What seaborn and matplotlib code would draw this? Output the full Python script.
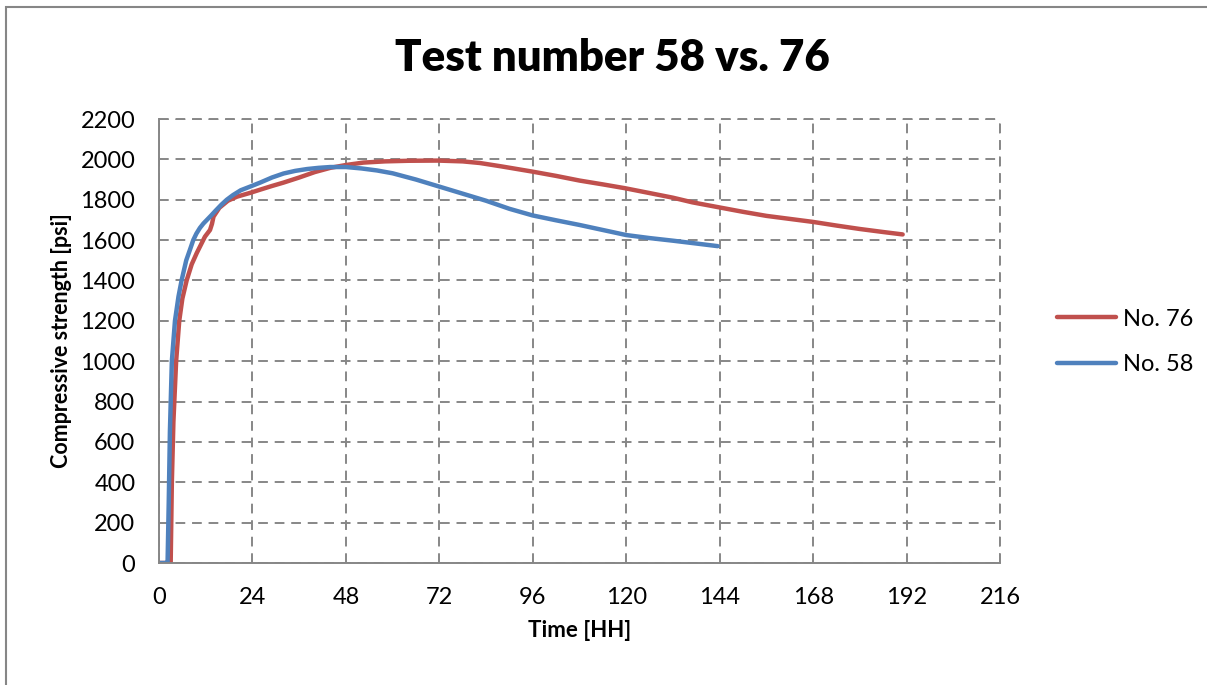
import matplotlib
matplotlib.use("Agg")
import matplotlib.pyplot as plt
import seaborn as sns
import pandas as pd
from matplotlib.patches import Rectangle

# Test No. 76 (hours, psi)
t76 = [0, 2.9, 3.0, 3.3, 3.7, 4.4, 5.2, 6.0, 7.1, 8.4, 9.7, 11.8, 13.1, 13.6,
       14.0, 15.5, 17.7, 20, 23.4, 26, 29, 32, 36, 40, 44, 48, 52.5, 58, 64,
       71.6, 78, 82.4, 88, 95.7, 102, 108, 114, 119.7, 126, 132, 137, 142.8,
       150, 156, 162, 168, 174, 180, 186, 191]
s76 = [0, 0, 0, 400, 700, 1000, 1200, 1310, 1400, 1480, 1536, 1617, 1650, 1680,
       1716, 1760, 1795, 1815, 1834, 1850, 1868, 1885, 1910, 1937, 1958, 1972,
       1984, 1990, 1993, 1994, 1990, 1982, 1965, 1940, 1918, 1895, 1876, 1857,
       1833, 1810, 1787, 1766, 1740, 1720, 1705, 1690, 1672, 1655, 1640, 1628]

# Test No. 58 (hours, psi)
t58 = [0, 2.1, 2.2, 2.5, 2.8, 3.3, 4.1, 5.0, 5.8, 7.0, 8.0, 8.8, 9.6, 10.5,
       11.4, 12.3, 13.4, 14.5, 16.0, 17.4, 19, 21, 23.4, 26, 29, 32, 35, 38,
       41, 44, 48, 52, 56, 60, 66, 72, 78, 84, 90, 96, 102, 108, 114, 120, 126,
       132, 138, 143.5]
s58 = [0, 0, 0, 300, 650, 1000, 1200, 1320, 1400, 1500, 1555, 1600, 1632, 1660,
       1682, 1700, 1722, 1745, 1775, 1800, 1823, 1847, 1865, 1885, 1910, 1930,
       1943, 1952, 1958, 1962, 1962, 1955, 1945, 1931, 1900, 1865, 1830, 1795,
       1755, 1722, 1698, 1675, 1650, 1625, 1610, 1597, 1583, 1570]

series_names = ["No. 76", "No. 58"]
series_colors = ["#C0504D", "#4F81BD"]
x_ticks = list(range(0, 217, 24))
y_ticks = list(range(0, 2201, 200))

df = pd.concat([
    pd.DataFrame({"Time": t76, "Strength": s76, "Test": series_names[0]}),
    pd.DataFrame({"Time": t58, "Strength": s58, "Test": series_names[1]}),
], ignore_index=True)

sns.set_theme(style="white")
plt.rcParams["font.family"] = ["Lato", "DejaVu Sans"]
plt.rcParams["text.color"] = "black"
plt.rcParams["axes.labelcolor"] = "black"

fig = plt.figure(figsize=(12.07, 6.85), dpi=100)
ax = fig.add_axes([159 / 1207, 1 - 563 / 685, (1000 - 159) / 1207, (563 - 119) / 685])

sns.lineplot(data=df, x="Time", y="Strength", hue="Test", hue_order=series_names,
             palette=series_colors, sort=False, linewidth=3.2, ax=ax, legend=True)

ax.set_xlim(0, 216)
ax.set_ylim(0, 2200)
ax.set_xticks(x_ticks)
ax.set_yticks(y_ticks)
ax.tick_params(axis="both", length=0, labelsize=17, colors="black")
ax.tick_params(axis="y", pad=17)
ax.tick_params(axis="x", pad=17)

grid_kw = dict(color="#878787", linewidth=1.4, linestyle=(0, (5, 3.5)))
ax.grid(True, **grid_kw)
for s in ["top", "right"]:
    ax.spines[s].set_visible(False)
for s in ["left", "bottom"]:
    ax.spines[s].set_color("#868686")
    ax.spines[s].set_linewidth(1.4)
# dashed frame lines at the top and right limits
ax.axhline(2200, clip_on=False, zorder=0, **grid_kw)
ax.axvline(216, clip_on=False, zorder=0, **grid_kw)

ax.set_xlabel("Time [HH]", fontsize=16, fontweight="bold", labelpad=9)
ax.set_ylabel("Compressive strength [psi]", fontsize=15.5, fontweight="bold", labelpad=6)

fig.text(0.507, 1 - 58 / 685, "Test number 58 vs. 76", ha="center", va="center",
         fontsize=31.5, fontweight="heavy")

leg = ax.legend(loc="center left", bbox_to_anchor=(1036 / 1207, 1 - 342 / 685),
                bbox_transform=fig.transFigure, frameon=False, fontsize=17,
                handlelength=2.5, handletextpad=0.3, labelspacing=1.05)
for line in leg.get_lines():
    line.set_linewidth(3.2)

# chart-area border
fig.patches.append(Rectangle((5.5 / 1207, -0.1), 1.2, 1 - 6.5 / 685 + 0.1,
                             transform=fig.transFigure, fill=False,
                             edgecolor="#868686", linewidth=1.5))

fig.savefig("out.png", dpi=100)
